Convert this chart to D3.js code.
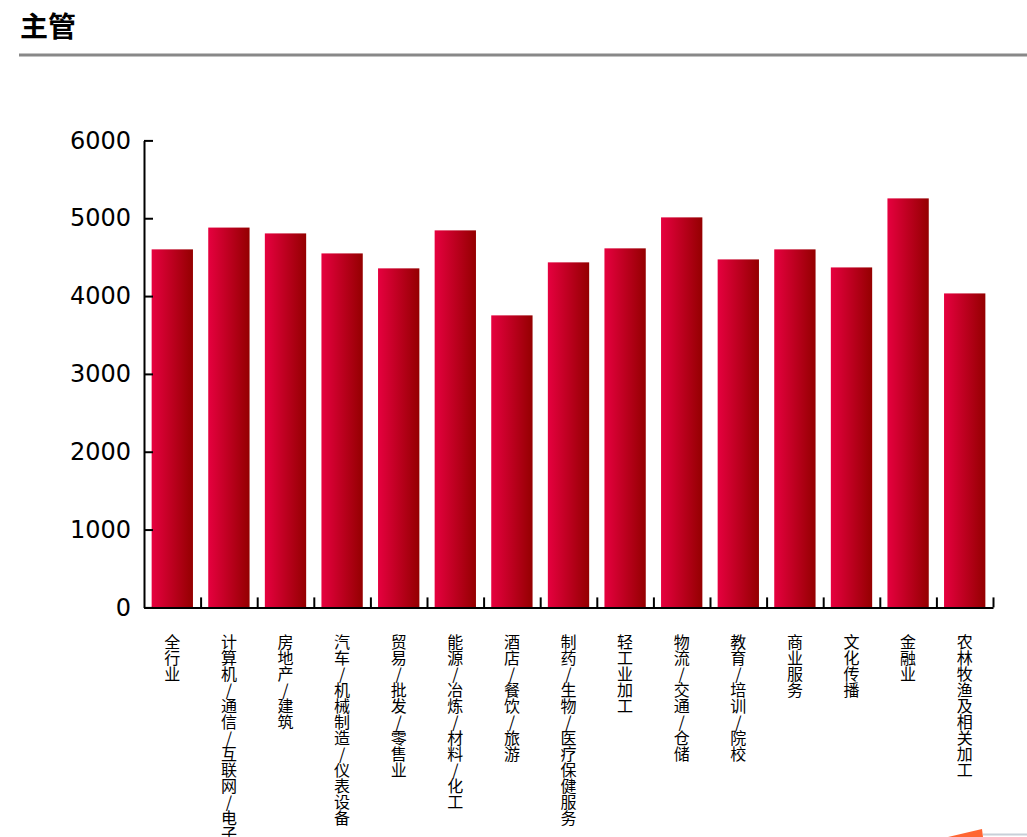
<!DOCTYPE html>
<html>
<head>
<meta charset="utf-8">
<script src="https://cdn.jsdelivr.net/npm/d3@7/dist/d3.min.js"></script>
<style>
  html, body { margin: 0; padding: 0; background: #fff; }
  svg { display: block; }
</style>
</head>
<body>
<svg id="chart" width="1027" height="837"></svg>
<script>
const title = "主管";
const categories = [
  "全行业",
  "计算机/通信/互联网/电子",
  "房地产/建筑",
  "汽车/机械制造/仪表设备",
  "贸易/批发/零售业",
  "能源/冶炼/材料/化工",
  "酒店/餐饮/旅游",
  "制药/生物/医疗保健服务",
  "轻工业加工",
  "物流/交通/仓储",
  "教育/培训/院校",
  "商业服务",
  "文化传播",
  "金融业",
  "农林牧渔及相关加工"
];
const values = [4600, 4880, 4805, 4548, 4356, 4844, 3752, 4433, 4613, 5011, 4471, 4600, 4368, 5255, 4034];
const yTicks = [0, 1000, 2000, 3000, 4000, 5000, 6000];

(function () {
const svg = d3.select("#chart");
const W = 1027, H = 837;
const mLeft = 144, mRight = 993, mTop = 140.4, mBottom = 607.4;

// gradient
const defs = svg.append("defs");
const grad = defs.append("linearGradient").attr("id", "barGrad")
  .attr("x1", "0").attr("x2", "1").attr("y1", "0").attr("y2", "0");
grad.append("stop").attr("offset", "0").attr("stop-color", "#e6003f");
grad.append("stop").attr("offset", "1").attr("stop-color", "#940000");

// title
svg.append("text").attr("x", 20).attr("y", 37)
  .attr("font-family", "'Noto Sans CJK SC', sans-serif")
  .attr("font-weight", "bold").attr("font-size", 28).attr("fill", "#000")
  .text(title);
svg.append("rect").attr("x", 19).attr("y", 53.5).attr("width", W - 19).attr("height", 3)
  .attr("fill", "#888888");

const x = d3.scaleBand().domain(categories).range([mLeft, mRight])
  .paddingInner(0.27).paddingOuter(0.135);
const y = d3.scaleLinear().domain([0, 6000]).range([mBottom, mTop]);

// bars
svg.append("g").selectAll("rect").data(categories).join("rect")
  .attr("x", d => x(d))
  .attr("y", (d, i) => y(values[i]))
  .attr("width", x.bandwidth())
  .attr("height", (d, i) => y(0) - y(values[i]))
  .attr("fill", "url(#barGrad)");

// y axis
const yAxis = d3.axisLeft(y).tickValues(yTicks).tickSize(-9).tickSizeOuter(0).tickPadding(13)
  .tickFormat(d3.format("d"));
const gy = svg.append("g").attr("transform", `translate(${mLeft},0)`).call(yAxis);
gy.select(".domain").attr("stroke", "#000").attr("stroke-width", 2);
gy.selectAll(".tick line").attr("stroke", "#000").attr("stroke-width", 2);
gy.selectAll(".tick text").attr("font-family", "'DejaVu Sans', sans-serif")
  .attr("font-size", 24).attr("fill", "#000");

// x axis: boundary ticks
const xb = d3.scaleLinear().domain([0, categories.length]).range([mLeft, mRight]);
const xAxis = d3.axisBottom(xb).tickValues(d3.range(1, categories.length + 1))
  .tickSize(-10).tickSizeOuter(0).tickFormat("");
const gx = svg.append("g").attr("transform", `translate(0,${mBottom})`).call(xAxis);
gx.select(".domain").attr("stroke", "#000").attr("stroke-width", 2);
gx.selectAll(".tick line").attr("stroke", "#000").attr("stroke-width", 2);

// x labels (vertical)
svg.append("g").selectAll("text").data(categories).join("text")
  .attr("x", d => x(d) + x.bandwidth() / 2)
  .attr("y", 634)
  .attr("font-family", "'Noto Sans CJK SC', sans-serif")
  .attr("font-size", 16).attr("fill", "#000")
  .style("writing-mode", "vertical-rl")
  .style("text-orientation", "upright")
  .text(d => d);

// decorative corner element
svg.append("path").attr("d", "M948,837 L982,829 L983,837 Z").attr("fill", "#ff6633");
svg.append("rect").attr("x", 983).attr("y", 833.5).attr("width", 44).attr("height", 2).attr("fill", "#c8d0d8");
})();
</script>
</body>
</html>
